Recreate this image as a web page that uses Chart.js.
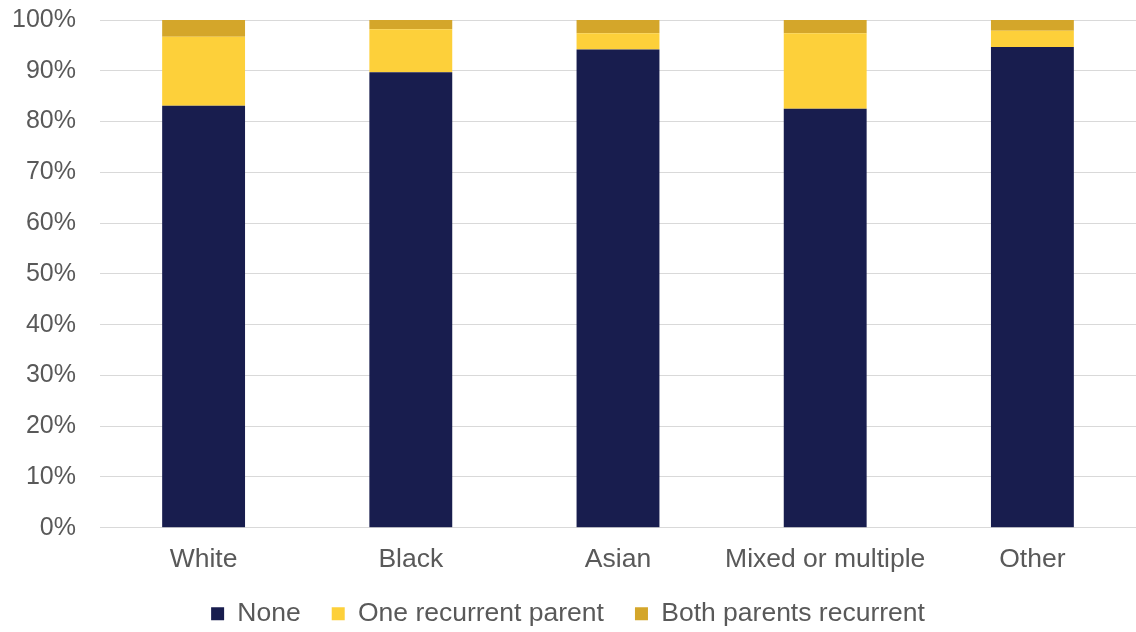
<!DOCTYPE html>
<html>
<head>
<meta charset="utf-8">
<script src="https://cdn.jsdelivr.net/npm/chart.js@4"></script>
<style>
  html, body { margin: 0; padding: 0; background: #fff; }
  #wrap { width: 1136px; height: 632px; }
</style>
</head>
<body>
<div id="wrap"><canvas id="chart"></canvas></div>
<script>
const categories = ['White', 'Black', 'Asian', 'Mixed or multiple', 'Other'];
const noneVals = [83.1, 89.7, 94.2, 82.5, 94.7];
const oneParentVals = [13.6, 8.5, 3.2, 14.9, 3.2];
const bothParentsVals = [3.3, 1.8, 2.6, 2.6, 2.1];

Chart.defaults.font.family = '"Liberation Sans", Arial, sans-serif';
Chart.defaults.color = '#595959';

// legend items need wide gaps but sit close under the axis labels
const legendNudge = {
    id: 'legendNudge',
    afterLayout(chart) {
        chart.legend.top -= 14;
        chart.legend.bottom -= 14;
    }
};

new Chart(document.getElementById('chart'), {
    type: 'bar',
    data: {
        labels: categories,
        datasets: [
            { label: 'None', data: noneVals, backgroundColor: '#181d4e' },
            { label: 'One recurrent parent', data: oneParentVals, backgroundColor: '#fdd03a' },
            { label: 'Both parents recurrent', data: bothParentsVals, backgroundColor: '#d4a62a' }
        ]
    },
    plugins: [legendNudge],
    options: {
        responsive: true,
        maintainAspectRatio: false,
        animation: false,
        layout: { padding: { top: 20, right: 0, bottom: -19, left: 0 } },
        datasets: { bar: { barPercentage: 0.4, categoryPercentage: 1 } },
        plugins: {
            tooltip: { enabled: false },
            legend: {
                position: 'bottom',
                labels: { boxWidth: 13, boxHeight: 13, padding: 31, font: { size: 26.5 }, color: '#595959' }
            }
        },
        scales: {
            x: {
                stacked: true,
                grid: { display: false },
                border: { color: '#d9d9d9' },
                ticks: { font: { size: 26.5 }, padding: 8, maxRotation: 0 }
            },
            y: {
                stacked: true,
                min: 0,
                max: 100,
                afterFit: (s) => { s.width = 100; },
                border: { display: false },
                grid: { color: '#d9d9d9', drawTicks: true, tickLength: 20, tickColor: 'rgba(0,0,0,0)' },
                ticks: { stepSize: 10, font: { size: 25 }, padding: 4, callback: v => v + '%' }
            }
        }
    }
});
</script>
</body>
</html>
